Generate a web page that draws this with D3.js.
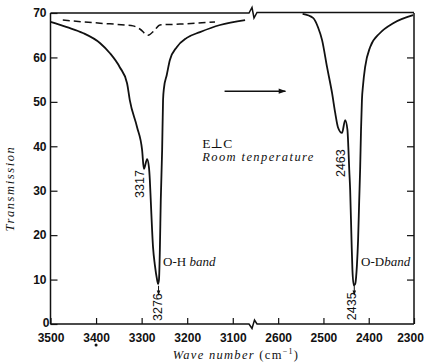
<!DOCTYPE html>
<html>
<head>
<meta charset="utf-8">
<script src="https://cdn.jsdelivr.net/npm/d3@7"></script>
<style>
  body { margin: 0; background: #fff; }
  svg { display: block; }
  .tick text { font-family: "Liberation Sans", Arial, sans-serif; font-weight: bold; font-size: 12px; fill: #111; }
  .serif { font-family: "Liberation Serif", "DejaVu Serif", serif; fill: #111; }
  .num { font-family: "Liberation Sans", Arial, sans-serif; font-size: 12.5px; fill: #111; }
</style>
</head>
<body>
<div id="chart"></div>
<script>
// ------------------------------------------------------------
// Data
// ------------------------------------------------------------
// O-H band, solid
const ohWave = [3500, 3464, 3429, 3391, 3370, 3348, 3332, 3326, 3310, 3299, 3295, 3288, 3284, 3282, 3280,
  3275, 3271, 3266, 3264, 3262, 3260, 3258, 3255, 3253, 3251, 3245, 3238, 3223, 3201, 3172, 3128, 3073];
const ohTrans = [68.0, 66.8, 65.5, 63.2, 61.0, 57.8, 54.2, 50.4, 44.3, 39.2, 34.9, 37.1, 35.3, 32.4, 27.9,
  17.3, 13.3, 9.9, 9.0, 9.9, 16.7, 27.9, 39.2, 50.4, 53.1, 56.0, 59.4, 62.3, 64.4, 65.7, 67.3, 68.4];

// O-H band, dashed
const ohDashWave = [3473, 3391, 3337, 3319, 3304, 3286, 3271, 3260, 3216, 3139];
const ohDashTrans = [68.4, 67.7, 67.3, 67.1, 66.4, 65.0, 66.2, 67.3, 67.5, 68.0];

// O-D band, solid
const odWave = [2546, 2523, 2512, 2503, 2492, 2481, 2474, 2468, 2459, 2452, 2447, 2445, 2443, 2441, 2438,
  2436, 2433, 2430, 2428, 2426, 2423.5, 2421, 2419, 2417, 2415, 2412.5, 2408, 2397, 2375, 2346, 2302];
const odTrans = [69.8, 68.9, 66.8, 63.9, 57.8, 52.0, 47.5, 44.3, 43.0, 45.9, 43.7, 39.8, 34.7, 30.2, 18.9,
  12.2, 8.7, 9.0, 10.4, 13.3, 18.9, 27.9, 34.7, 43.7, 50.4, 53.8, 57.8, 62.3, 65.5, 67.7, 69.5];

// Axis ticks
const xTicks = [3500, 3400, 3300, 3200, 3100, 2600, 2500, 2400, 2300];
const yTicks = [0, 10, 20, 30, 40, 50, 60, 70];

// Peak labels: [wave, transmission, text]
const peakLabels = [[3303, 31.5, "3317"], [3263, 3.8, "3276"], [2462, 36.2, "2463"], [2437, 4, "2435"]];

// ------------------------------------------------------------
// Layout
// ------------------------------------------------------------
const width = 425, height = 364;
const margin = { top: 13, right: 11, bottom: 40, left: 50.5 };
const breakX = 251;

const svg = d3.select("#chart").append("svg")
  .attr("width", width)
  .attr("height", height);

// broken axis: 3500..3060 | 2660..2300
const x = d3.scaleLinear()
  .domain([3500, 3060, 2660, 2300])
  .range([margin.left, breakX, breakX, width - margin.right]);

const y = d3.scaleLinear()
  .domain([0, 70])
  .range([height - margin.bottom, margin.top]);

const x0 = margin.left, x1 = width - margin.right;
const yTop = y(70), yBot = y(0);

// ------------------------------------------------------------
// Axes
// ------------------------------------------------------------
const gx = svg.append("g")
  .attr("transform", `translate(0,${yBot})`)
  .call(d3.axisBottom(x).tickValues(xTicks).tickSize(-6).tickSizeOuter(0).tickPadding(9)
    .tickFormat(d3.format("d")));
gx.select(".domain").remove();
gx.selectAll(".tick").filter(d => d === 2300).select("text").attr("dx", -4);

const gy = svg.append("g")
  .attr("transform", `translate(${x0},0)`)
  .call(d3.axisLeft(y).tickValues(yTicks).tickSize(-7).tickSizeOuter(0).tickPadding(4));
gy.select(".domain").remove();
gy.selectAll(".tick").filter(d => d === 0).select("text").attr("x", -1).attr("dy", "0.2em");

const gr = svg.append("g")
  .attr("transform", `translate(${x1},0)`)
  .call(d3.axisRight(y).tickValues(yTicks.slice(1, -1)).tickSize(-7).tickFormat(""));
gr.select(".domain").remove();

svg.selectAll(".tick line").attr("stroke", "#111").attr("stroke-width", 1.2);

// Frame with break marks
const frame = svg.append("g")
  .attr("fill", "none")
  .attr("stroke", "#111")
  .attr("stroke-width", 1.5);

frame.append("path").attr("d", `M${x0},${yTop}V${yBot}`);
frame.append("path").attr("d", `M${x1},${yTop}V${yBot}`);
frame.append("path")
  .attr("d", `M${x0},${yTop}H${breakX - 2}L${breakX + 1},${yTop - 5.5}L${breakX + 3},${yTop + 5}L${breakX + 6},${yTop - 0.5}H${x1}`);
frame.append("path")
  .attr("d", `M${x0},${yBot}H${breakX - 2}L${breakX + 1},${yBot + 4.5}L${breakX + 3.5},${yBot - 4}L${breakX + 6},${yBot}H${x1}`);

// ------------------------------------------------------------
// Curves
// ------------------------------------------------------------
const line = d3.line()
  .x(d => x(d[0]))
  .y(d => y(d[1]))
  .curve(d3.curveMonotoneX);

svg.append("path")
  .datum(d3.zip(ohWave, ohTrans))
  .attr("fill", "none")
  .attr("stroke", "#111")
  .attr("stroke-width", 1.8)
  .attr("d", line);

svg.append("path")
  .datum(d3.zip(ohDashWave, ohDashTrans))
  .attr("fill", "none")
  .attr("stroke", "#111")
  .attr("stroke-width", 1.5)
  .attr("stroke-dasharray", "7,4")
  .attr("d", line);

svg.append("path")
  .datum(d3.zip(odWave, odTrans))
  .attr("fill", "none")
  .attr("stroke", "#111")
  .attr("stroke-width", 1.8)
  .attr("d", line);

// ------------------------------------------------------------
// Annotations
// ------------------------------------------------------------
svg.append("defs").append("marker")
  .attr("id", "head")
  .attr("viewBox", "0 0 10 10")
  .attr("refX", 9).attr("refY", 5)
  .attr("markerWidth", 6).attr("markerHeight", 5)
  .attr("orient", "auto")
  .append("path").attr("d", "M0,1.5L10,5L0,8.5z").attr("fill", "#111");

// direction arrow
svg.append("line")
  .attr("x1", x(3118)).attr("x2", x(2584))
  .attr("y1", y(52.4)).attr("y2", y(52.4))
  .attr("stroke", "#111").attr("stroke-width", 1.5)
  .attr("marker-end", "url(#head)");

// small arrows under the minima
[3264, 2433].forEach(w => {
  svg.append("line")
    .attr("x1", x(w) + 0.5).attr("x2", x(w) + 0.5)
    .attr("y1", y(8.6)).attr("y2", y(6.5))
    .attr("stroke", "#111").attr("stroke-width", 1)
    .attr("marker-end", "url(#head)");
});

peakLabels.forEach(([w, t, label]) => {
  svg.append("text")
    .attr("class", "num")
    .attr("transform", `translate(${x(w)},${y(t)}) rotate(-90)`)
    .attr("text-anchor", "middle")
    .attr("dominant-baseline", "central")
    .text(label);
});

svg.append("text")
  .attr("class", "serif")
  .attr("x", x(3167)).attr("y", y(39.6))
  .attr("font-size", 13.5)
  .text("E\u22A5C");

svg.append("text")
  .attr("class", "serif")
  .attr("x", x(3167)).attr("y", y(36.7))
  .attr("font-size", 12.5)
  .attr("font-style", "italic")
  .attr("letter-spacing", 1.4)
  .text("Room tenperature");

const ohLab = svg.append("text")
  .attr("class", "serif")
  .attr("x", x(3253)).attr("y", y(13.1))
  .attr("font-size", 13);
ohLab.append("tspan").text("O-H ");
ohLab.append("tspan").attr("font-style", "italic").text("band");

const odLab = svg.append("text")
  .attr("class", "serif")
  .attr("x", x(2417)).attr("y", y(13.1))
  .attr("font-size", 13);
odLab.append("tspan").text("O-D");
odLab.append("tspan").attr("font-style", "italic").text("band");

// stray print dot under 3400
svg.append("circle")
  .attr("cx", x(3400)).attr("cy", yBot + 21)
  .attr("r", 1.5).attr("fill", "#111");

// Axis titles
svg.append("text")
  .attr("class", "serif")
  .attr("transform", `translate(14,${y(30.5)}) rotate(-90)`)
  .attr("text-anchor", "middle")
  .attr("font-size", 12.5)
  .attr("font-style", "italic")
  .attr("letter-spacing", 1.6)
  .text("Transmission");

const xt = svg.append("text")
  .attr("class", "serif")
  .attr("x", 236).attr("y", height - 5)
  .attr("text-anchor", "middle")
  .attr("font-size", 12.5)
  .attr("letter-spacing", 1.3);
xt.append("tspan").attr("font-style", "italic").text("Wave number ");
xt.append("tspan").text("(cm");
xt.append("tspan").attr("font-size", 8).attr("dy", -5).text("\u22121");
xt.append("tspan").attr("dy", 5).text(")");
</script>
</body>
</html>
